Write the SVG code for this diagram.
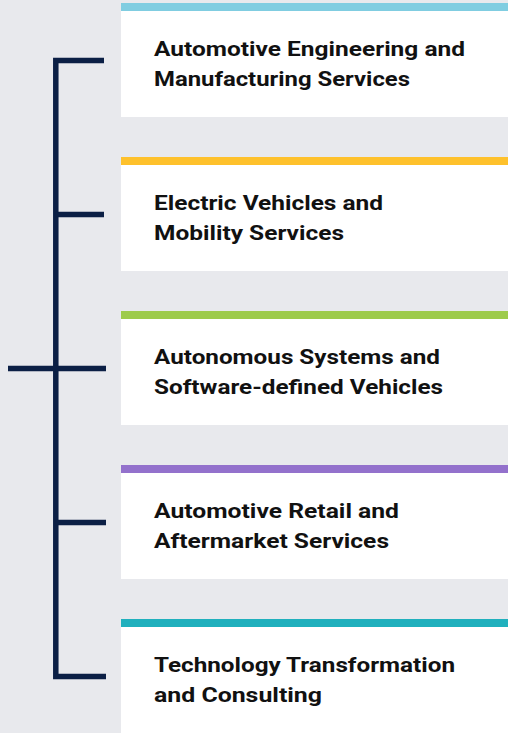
<svg xmlns="http://www.w3.org/2000/svg" width="508" height="733" viewBox="0 0 508 733">
<style>
.box{fill:#ffffff}
.lbl{font-family:Roboto,"Liberation Sans",Arial,sans-serif;font-weight:bold;font-size:20.5px;fill:#111111}
.ln{stroke:#0b1f45;stroke-width:5.5;fill:none;stroke-linecap:butt}
</style>
<rect width="508" height="733" fill="#e8e9ed"/>
<g id="connectors">
<path class="ln" d="M104 60.5 H55.8 V676.5 H106"/>
<path class="ln" d="M55.8 214.5 H104"/>
<path class="ln" d="M8 368.5 H106"/>
<path class="ln" d="M55.8 522.5 H106"/>
</g>
<g id="node1">
<rect class="box" x="121" y="3" width="387" height="114"/>
<rect x="121" y="3" width="387" height="8" fill="#80cde1"/>
<text class="lbl" x="154" y="56" textLength="311" lengthAdjust="spacingAndGlyphs">Automotive Engineering and</text>
<text class="lbl" x="154" y="86" textLength="256" lengthAdjust="spacingAndGlyphs">Manufacturing Services</text>
</g>
<g id="node2">
<rect class="box" x="121" y="157" width="387" height="114"/>
<rect x="121" y="157" width="387" height="8" fill="#fec12c"/>
<text class="lbl" x="154" y="210" textLength="229" lengthAdjust="spacingAndGlyphs">Electric Vehicles and</text>
<text class="lbl" x="154" y="240" textLength="190" lengthAdjust="spacingAndGlyphs">Mobility Services</text>
</g>
<g id="node3">
<rect class="box" x="121" y="311" width="387" height="114"/>
<rect x="121" y="311" width="387" height="8" fill="#9dcb4c"/>
<text class="lbl" x="154" y="364" textLength="286" lengthAdjust="spacingAndGlyphs">Autonomous Systems and</text>
<text class="lbl" x="154" y="394" textLength="289" lengthAdjust="spacingAndGlyphs">Software-defined Vehicles</text>
</g>
<g id="node4">
<rect class="box" x="121" y="465" width="387" height="114"/>
<rect x="121" y="465" width="387" height="8" fill="#9371cc"/>
<text class="lbl" x="154" y="518" textLength="245" lengthAdjust="spacingAndGlyphs">Automotive Retail and</text>
<text class="lbl" x="154" y="548" textLength="235" lengthAdjust="spacingAndGlyphs">Aftermarket Services</text>
</g>
<g id="node5">
<rect class="box" x="121" y="619" width="387" height="114"/>
<rect x="121" y="619" width="387" height="8" fill="#20b0bd"/>
<text class="lbl" x="154" y="672" textLength="301" lengthAdjust="spacingAndGlyphs">Technology Transformation</text>
<text class="lbl" x="154" y="702" textLength="168" lengthAdjust="spacingAndGlyphs">and Consulting</text>
</g>
</svg>
